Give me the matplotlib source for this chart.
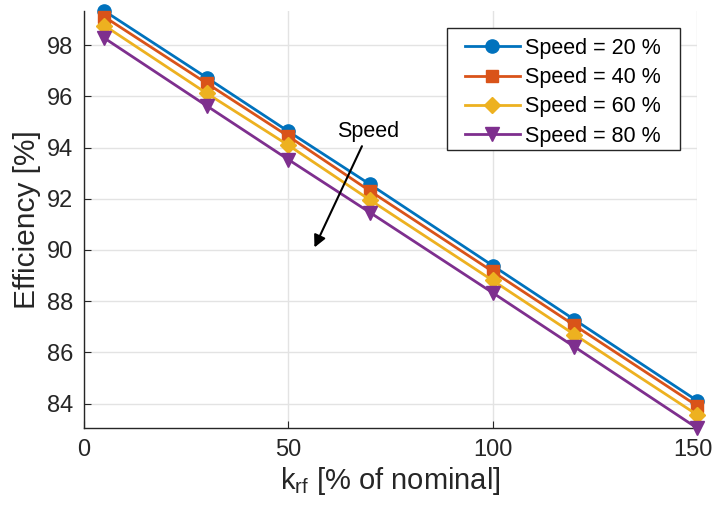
import matplotlib
matplotlib.use("Agg")
import matplotlib.pyplot as plt
from matplotlib.patches import Rectangle
from matplotlib.transforms import ScaledTranslation

x = [5, 30, 50, 70, 100, 120, 150]
speed20 = [99.33, 96.73, 94.63, 92.56, 89.39, 87.28, 84.12]
speed40 = [99.10, 96.51, 94.44, 92.30, 89.16, 87.06, 83.92]
speed60 = [98.76, 96.12, 94.09, 91.95, 88.81, 86.70, 83.57]
speed80 = [98.27, 95.63, 93.53, 91.46, 88.33, 86.22, 83.05]
labels = ["Speed = 20 %", "Speed = 40 %", "Speed = 60 %", "Speed = 80 %"]
colors = ["#0072BD", "#D95319", "#EDB120", "#7E2F8E"]
markers = ["o", "s", "D", "v"]
msizes = [9.5, 8, 8, 10]

plt.rcParams['font.family'] = ['Liberation Sans', 'DejaVu Sans']
W, H = 713, 513
fig = plt.figure(figsize=(W / 100, H / 100), dpi=100)
ax = fig.add_axes([84 / W, 1 - 428 / H, 613 / W, 417 / H])

for ys, lab, c, m, ms in zip([speed20, speed40, speed60, speed80], labels, colors, markers, msizes):
    ax.plot(x, ys, color=c, marker=m, markersize=ms, linewidth=2, label=lab, clip_on=False, zorder=3)

ax.set_xlim(0, 150)
ax.set_ylim(83.05, 99.33)
ax.set_xticks([0, 50, 100, 150])
ax.set_yticks([84, 86, 88, 90, 92, 94, 96, 98])
ax.grid(True, color="#e3e3e3", linewidth=1)
ax.set_axisbelow(True)
for s in ["top", "right"]:
    ax.spines[s].set_visible(False)
for s in ["left", "bottom"]:
    ax.spines[s].set_color("#262626")
    ax.spines[s].set_linewidth(1)
ax.tick_params(direction="in", labelsize=17, colors="#262626", length=5, pad=8)

# nudge last x tick label so it stays inside the figure
last = ax.get_xticklabels()[-1]
last.set_transform(last.get_transform() + ScaledTranslation(-4.5 / 100, 0, fig.dpi_scale_trans))

ax.set_xlabel(r"k$_{\mathregular{rf}}$ [% of nominal]", fontsize=21, color="#262626", labelpad=3)
ax.set_ylabel("Efficiency [%]", fontsize=21.5, color="#262626", labelpad=4)

ax.annotate("", xy=(56.1, 90.0), xytext=(68.3, 94.15),
            arrowprops=dict(arrowstyle="-|>", color="black", lw=1.5, mutation_scale=18))
ax.text(69.5, 94.64, "Speed", fontsize=15.5, ha="center", va="center")

# legend frame drawn separately to match padding
frame = Rectangle((447 / W, 1 - 150 / H), 233 / W, 122 / H, transform=fig.transFigure,
                  facecolor="white", edgecolor="#262626", linewidth=1, zorder=4.5, clip_on=False)
ax.add_patch(frame)
leg = ax.legend(loc="upper left", bbox_to_anchor=(465 / W, 1 - 38 / H), bbox_transform=fig.transFigure,
                fontsize=15.5, frameon=False, handlelength=2.55, borderpad=0, borderaxespad=0,
                labelspacing=0.38, handletextpad=0.25)
leg.set_zorder(5)

fig.savefig("out.png", dpi=100)
